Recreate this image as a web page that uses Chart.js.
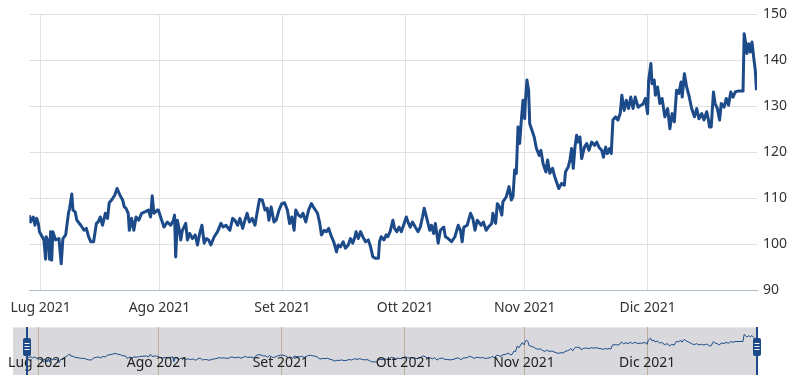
<!DOCTYPE html>
<html>
<head>
<meta charset="utf-8">
<script src="https://cdn.jsdelivr.net/npm/chart.js@4/dist/chart.umd.min.js"></script>
<style>
  html, body { margin: 0; padding: 0; background: #fff; }
  #wrap { position: relative; width: 812px; height: 375px; overflow: hidden; }
  #mainChart { position: absolute; left: 0; top: 0; }
  #navChart { position: absolute; left: 0; top: 327px; }
</style>
</head>
<body>
<div id="wrap">
  <canvas id="mainChart" width="812" height="326"></canvas>
  <canvas id="navChart" width="812" height="48"></canvas>
</div>
<script>
// ordinal position of each point (0 = first session of July 2021)
const sessionIdx = [
  -2.0, -1.8, -1.3, -1.0, -0.7, -0.4, -0.2, 0.3, 0.6, 0.9, 1.0, 1.4, 1.6, 1.8, 2.0, 2.2, 2.7, 3.3, 3.7, 4.0,
  4.5, 5.0, 5.2, 5.6, 5.8, 6.2, 6.5, 7.2, 7.8, 8.2, 8.6, 9.0, 9.5, 10.0, 10.3, 10.7, 11.1, 11.6, 12.0, 12.3,
  12.8, 13.3, 13.7, 14.2, 14.7, 15.0, 15.3, 15.7, 15.9, 16.3, 16.7, 17.1, 17.6, 18.1, 18.7, 19.3, 19.7, 20.0, 20.3, 20.6,
  20.9, 21.1, 21.5, 22.1, 22.7, 23.3, 23.8, 24.0, 24.2, 24.5, 24.8, 25.1, 25.4, 26.0, 26.3, 26.7, 27.2, 27.7, 28.1, 28.5,
  28.9, 29.3, 29.7, 30.1, 30.5, 31.1, 31.7, 32.3, 32.7, 33.2, 33.9, 34.4, 34.8, 35.3, 35.7, 36.2, 36.6, 37.0, 37.4, 37.9,
  38.4, 38.8, 39.2, 39.7, 40.2, 40.6, 40.9, 41.3, 41.8, 42.2, 42.7, 43.2, 43.7, 44.2, 44.6, 45.0, 45.4, 45.7, 46.2, 46.6,
  47.0, 47.5, 48.0, 48.5, 49.0, 49.6, 50.0, 50.3, 50.8, 51.2, 51.6, 52.1, 52.5, 53.0, 53.3, 53.7, 54.2, 54.6, 55.1, 55.5,
  55.9, 56.3, 56.5, 56.9, 57.3, 57.7, 58.2, 58.7, 59.1, 59.5, 60.0, 60.5, 60.7, 61.0, 61.5, 61.9, 62.2, 62.6, 63.1, 63.4,
  63.8, 64.2, 64.6, 65.0, 65.5, 65.9, 66.2, 66.6, 67.1, 67.6, 68.0, 68.4, 68.7, 69.1, 69.7, 70.0, 70.4, 70.7, 71.2, 71.6,
  72.2, 72.5, 73.0, 73.6, 74.2, 74.8, 75.2, 75.5, 75.8, 76.4, 77.0, 77.4, 77.8, 78.2, 78.9, 79.3, 79.8, 80.2, 80.8, 81.0,
  81.5, 81.8, 82.2, 82.6, 82.8, 83.4, 83.9, 84.3, 84.6, 84.9, 85.2, 85.5, 85.8, 86.1, 86.4, 86.7, 86.8, 87.1, 87.4, 87.6,
  88.0, 88.4, 88.8, 89.3, 89.6, 90.0, 90.5, 90.8, 91.2, 91.7, 92.0, 92.4, 92.8, 93.3, 93.8, 94.0, 94.5, 94.8, 95.1, 95.4,
  95.7, 96.0, 96.3, 96.6, 96.9, 97.4, 97.8, 98.2, 98.7, 99.2, 99.6, 100.0, 100.5, 100.8, 101.2, 101.5, 101.9, 102.2, 102.5, 103.0,
  103.4, 103.8, 104.1, 104.5, 104.9, 105.3, 105.7, 106.1, 106.5, 107.0, 107.5, 107.9, 108.3, 108.7, 108.9, 109.3, 109.5, 109.9, 110.1, 110.5,
  110.9, 111.3, 111.8, 112.3, 112.7, 113.1, 113.5, 113.9, 114.3, 114.7, 114.9, 115.3, 115.7, 116.1, 116.6, 117.1, 117.5, 117.9, 118.4, 118.8,
  119.3, 119.6, 119.8, 120.1, 120.5, 120.8, 121.2, 121.6, 121.9, 122.4, 122.8, 123.2, 123.6, 124.0, 124.4, 124.9, 125.8, 126.0, 126.2, 126.5,
  126.8, 127.1, 127.4, 127.7, 128.0, 128.2
];

const prices = [
  106.3, 104.8, 105.9, 104.1, 105.6, 104.5, 102.7, 101.6, 100.9, 96.7, 101.6, 100.5, 96.7, 102.7, 96.5, 102.7, 100.9, 101.2, 95.7, 101.2,
  102.0, 106.7, 107.8, 110.9, 107.4, 107.0, 105.2, 104.1, 103.0, 103.4, 101.6, 100.5, 100.5, 104.5, 104.8, 105.9, 104.1, 106.7, 105.6, 109.0,
  109.7, 110.7, 112.1, 110.7, 109.6, 108.1, 107.8, 106.7, 103.0, 105.6, 103.0, 105.9, 105.2, 106.7, 107.0, 107.4, 105.9, 110.5, 106.7, 107.0,
  107.4, 107.4, 105.9, 103.7, 104.8, 104.1, 105.2, 106.3, 97.2, 105.2, 103.4, 100.9, 103.0, 104.5, 100.9, 102.3, 101.2, 102.0, 99.8, 102.3,
  104.1, 100.2, 101.2, 100.9, 99.8, 101.6, 102.7, 104.5, 103.7, 104.1, 103.0, 105.6, 105.2, 104.1, 105.6, 103.4, 105.2, 106.7, 104.8, 105.6,
  104.1, 107.0, 109.7, 109.6, 107.4, 107.8, 105.2, 108.1, 104.8, 105.2, 107.4, 108.8, 109.0, 107.4, 104.5, 105.9, 103.0, 107.4, 106.3, 105.9,
  106.7, 104.8, 107.4, 108.8, 107.8, 106.7, 104.5, 102.0, 103.0, 102.7, 103.4, 101.6, 100.5, 98.3, 99.8, 99.4, 100.5, 99.1, 99.8, 101.2,
  100.2, 101.6, 102.7, 101.2, 102.7, 101.6, 100.5, 100.9, 99.4, 97.2, 96.9, 96.9, 100.5, 101.6, 100.9, 102.0, 101.6, 102.7, 105.2, 103.4,
  102.7, 103.7, 102.7, 104.1, 105.9, 104.5, 103.7, 104.8, 103.7, 102.7, 103.7, 105.9, 107.8, 105.9, 103.0, 104.1, 102.3, 104.5, 100.2, 103.0,
  103.7, 101.6, 101.2, 100.5, 101.6, 104.1, 103.0, 100.5, 103.7, 104.1, 106.7, 105.6, 103.0, 105.2, 104.1, 104.8, 103.0, 103.7, 104.5, 106.7,
  104.5, 108.8, 108.1, 106.3, 109.2, 110.3, 112.5, 109.6, 110.3, 116.1, 115.4, 125.5, 121.9, 127.0, 131.3, 127.3, 130.6, 135.7, 133.5, 126.2,
  124.8, 123.3, 120.8, 119.3, 120.4, 117.5, 115.7, 118.3, 115.4, 116.5, 115.0, 113.5, 112.1, 113.2, 112.8, 115.7, 116.8, 118.3, 120.8, 116.5,
  121.1, 123.7, 122.2, 123.3, 118.6, 121.1, 121.9, 120.4, 122.2, 121.5, 122.2, 121.1, 120.4, 118.9, 121.1, 119.7, 120.8, 119.7, 127.0, 127.7,
  127.0, 128.4, 132.4, 129.1, 131.3, 129.5, 132.0, 129.5, 132.0, 129.8, 130.2, 130.5, 131.7, 128.4, 135.7, 139.3, 134.9, 135.7, 132.4, 134.2,
  130.6, 131.7, 127.7, 129.5, 125.1, 128.4, 126.6, 133.5, 132.8, 135.3, 132.0, 137.1, 134.2, 132.4, 129.5, 127.7, 129.5, 127.3, 128.4, 127.0,
  128.8, 127.0, 125.5, 125.5, 133.1, 130.6, 129.5, 127.0, 130.6, 129.8, 131.7, 130.2, 133.1, 132.0, 133.1, 133.3, 133.3, 145.8, 144.3, 141.5,
  143.6, 141.8, 144.0, 140.7, 137.8, 133.5
];

// month boundaries on the ordinal axis and their labels
const monthStarts = [0, 21.3, 43.3, 65.3, 86.7, 108.7];
const monthLabels = ['Lug 2021', 'Ago 2021', 'Set 2021', 'Ott 2021', 'Nov 2021', 'Dic 2021'];

const lineColor = '#1d4a89';
const textColor = '#333333';
const fontFamily = '"Noto Sans", "Open Sans", sans-serif';

const points = sessionIdx.map((x, i) => ({ x: x, y: prices[i] }));
const xMin = -2.0;
const xMax = 128.3;

new Chart(document.getElementById('mainChart').getContext('2d'), {
  type: 'line',
  data: {
    datasets: [{
      data: points,
      borderColor: lineColor,
      borderWidth: 3,
      borderJoinStyle: 'round',
      pointRadius: 0,
      tension: 0,
      fill: false
    }]
  },
  options: {
    responsive: false,
    animation: false,
    devicePixelRatio: 1,
    layout: { padding: { left: 27, top: 14, right: 0, bottom: 0 } },
    plugins: { legend: { display: false }, tooltip: { enabled: false } },
    scales: {
      x: {
        type: 'linear',
        min: xMin,
        max: xMax,
        afterBuildTicks: scale => { scale.ticks = monthStarts.map(v => ({ value: v })); },
        afterFit: scale => { scale.height = 36; },
        ticks: {
          autoSkip: false,
          maxRotation: 0,
          padding: 10,
          color: textColor,
          font: { family: fontFamily, size: 14 },
          callback: value => monthLabels[monthStarts.indexOf(value)] || ''
        },
        grid: { color: '#e3e3e3', drawTicks: false },
        border: { display: true, color: '#aebccb', width: 1 }
      },
      y: {
        position: 'right',
        min: 90,
        max: 150,
        afterFit: scale => { scale.width = 55; },
        ticks: {
          stepSize: 10,
          padding: 6,
          color: textColor,
          font: { family: fontFamily, size: 14 }
        },
        grid: { color: '#e0e0e0', drawTicks: false },
        border: { display: false }
      }
    }
  }
});

// navigator strip under the main chart
const navigatorPlugin = {
  id: 'navigatorDecor',
  beforeDatasetsDraw(chart) {
    const ctx = chart.ctx;
    const xs = chart.scales.x;
    const h = chart.height;
    ctx.save();
    ctx.fillStyle = '#d9d9dd';
    ctx.fillRect(13, 0, chart.chartArea.right - 13, h);
    ctx.strokeStyle = '#f0e6e0';
    ctx.beginPath();
    ctx.moveTo(13, 0.5);
    ctx.lineTo(chart.chartArea.right, 0.5);
    ctx.stroke();
    ctx.strokeStyle = '#bcae9f';
    ctx.lineWidth = 1;
    monthStarts.forEach(v => {
      const px = Math.round(xs.getPixelForValue(v)) + 0.5;
      ctx.beginPath();
      ctx.moveTo(px, 0);
      ctx.lineTo(px, h);
      ctx.stroke();
    });
    ctx.restore();
  },
  afterDatasetsDraw(chart) {
    const ctx = chart.ctx;
    const xs = chart.scales.x;
    const h = chart.height;
    ctx.save();
    ctx.fillStyle = '#222222';
    ctx.font = '14px ' + fontFamily;
    ctx.textAlign = 'center';
    ctx.textBaseline = 'middle';
    monthStarts.forEach((v, i) => {
      ctx.fillText(monthLabels[i], xs.getPixelForValue(v), 36);
    });
    // handles at both ends of the selected range
    [xs.getPixelForValue(xMin), xs.getPixelForValue(xMax)].forEach(px => {
      ctx.strokeStyle = lineColor;
      ctx.lineWidth = 2;
      ctx.beginPath();
      ctx.moveTo(px, 0);
      ctx.lineTo(px, h);
      ctx.stroke();
      ctx.fillStyle = lineColor;
      ctx.beginPath();
      ctx.roundRect(px - 4, 11, 8, 18, 2);
      ctx.fill();
      ctx.strokeStyle = '#ffffff';
      ctx.lineWidth = 1;
      [16.5, 19.5, 22.5].forEach(y => {
        ctx.beginPath();
        ctx.moveTo(px - 2.5, y);
        ctx.lineTo(px + 2.5, y);
        ctx.stroke();
      });
    });
    ctx.restore();
  }
};

new Chart(document.getElementById('navChart').getContext('2d'), {
  type: 'line',
  data: {
    datasets: [{
      data: points,
      borderColor: lineColor,
      borderWidth: 1,
      pointRadius: 0,
      tension: 0,
      fill: false
    }]
  },
  options: {
    responsive: false,
    animation: false,
    devicePixelRatio: 1,
    layout: { padding: { left: 27, right: 55, top: 0, bottom: 0 } },
    plugins: { legend: { display: false }, tooltip: { enabled: false } },
    scales: {
      x: { type: 'linear', display: false, min: xMin, max: xMax },
      y: { display: false, min: 73.5, max: 159.2 }
    }
  },
  plugins: [navigatorPlugin]
});
</script>
</body>
</html>
